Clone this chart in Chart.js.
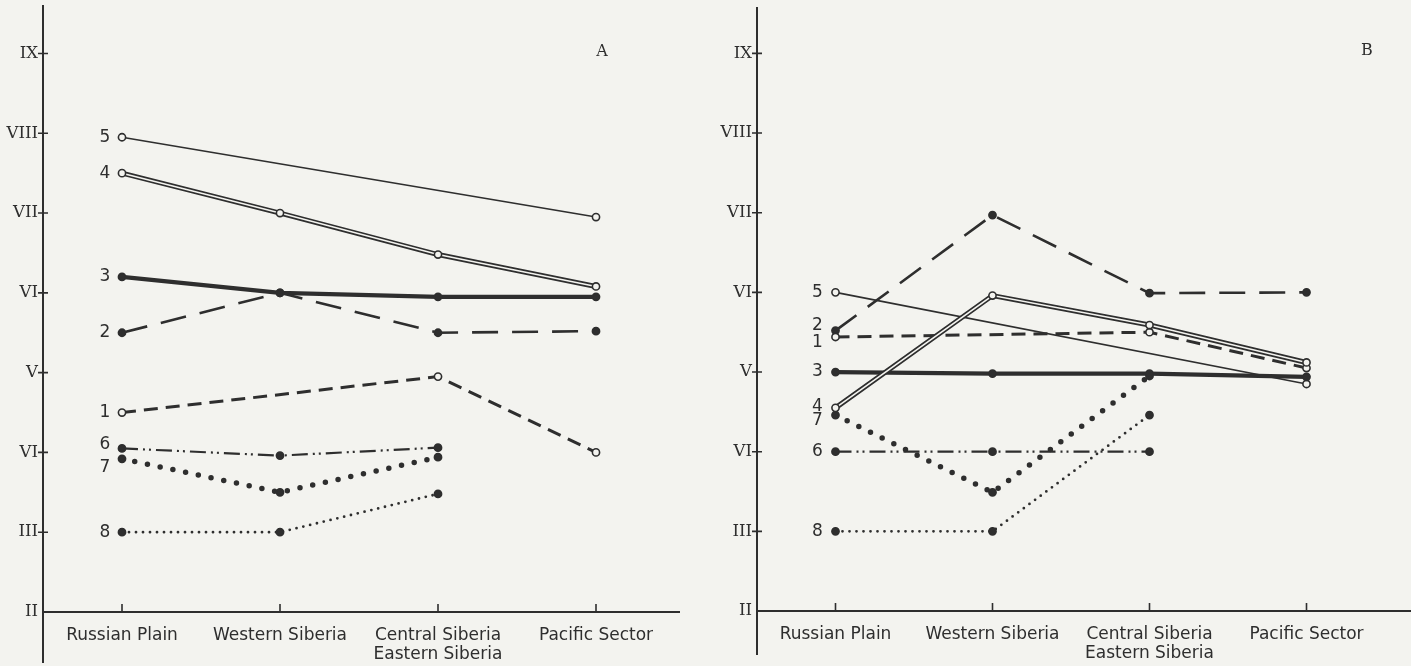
<!DOCTYPE html>
<html>
<head>
<meta charset="utf-8">
<script src="https://cdn.jsdelivr.net/npm/chart.js@4.4.1/dist/chart.umd.min.js"></script>
<style>
  html, body { margin: 0; padding: 0; background: #f3f3ef; }
  #wrap { position: relative; width: 1411px; height: 666px; overflow: hidden; background: #f3f3ef; }
  .panel { position: absolute; top: 0; height: 666px; }
  #pa { left: 0; width: 700px; }
  #pb { left: 700px; width: 711px; }
</style>
</head>
<body>
<div id="wrap">
  <div class="panel" id="pa"><canvas id="ca"></canvas></div>
  <div class="panel" id="pb"><canvas id="cb"></canvas></div>
</div>
<script>
// Regions along the west–east transect
const regions = ['Russian Plain', 'Western Siberia', ['Central Siberia', 'Eastern Siberia'], 'Pacific Sector'];

// Zone scale (value -> printed numeral)
const zoneTicks = [2, 3, 4, 5, 6, 7, 8, 9];
const zoneTickLabels = ['II', 'III', 'VI', 'V', 'VI', 'VII', 'VIII', 'IX'];

// Panel A
const a1 = [4.5, null, 4.95, 4.0];
const a2 = [5.5, 6.0, 5.5, 5.52];
const a3 = [6.2, 6.0, 5.95, 5.95];
const a4 = [7.5, 7.0, 6.48, 6.08];
const a5 = [7.95, null, null, 6.95];
const a6 = [4.05, 3.96, 4.06, null];
const a7 = [3.92, 3.5, 3.94, null];
const a8 = [3.0, 3.0, 3.48, null];

// Panel B
const b1 = [5.44, null, 5.5, 5.05];
const b2 = [5.52, 6.97, 5.99, 6.0];
const b3 = [5.0, 4.98, 4.98, 4.94];
const b4 = [4.55, 5.96, 5.59, 5.12];
const b5 = [6.0, null, null, 4.85];
const b6 = [4.0, 4.0, 4.0, null];
const b7 = [4.46, 3.49, 4.95, null];
const b8 = [3.0, 3.0, 4.46, null];

const ink = '#2e2e2e';
const paper = '#f3f3ef';

// Line style for each numbered curve
const curveStyle = {
  '1': { width: 3, dash: [14, 8], cap: 'butt', fillPt: paper },
  '2': { width: 2.6, dash: [26, 14], cap: 'butt', fillPt: ink },
  '3': { width: 4.2, dash: [], cap: 'butt', fillPt: ink },
  '4': { width: 5, dash: [], cap: 'butt', fillPt: paper, double: true },
  '5': { width: 1.6, dash: [], cap: 'butt', fillPt: paper },
  '6': { width: 2.2, dash: [16, 5, 2, 4, 2, 5], cap: 'butt', fillPt: ink },
  '7': { width: 5.5, dash: [0, 13], cap: 'round', fillPt: ink },
  '8': { width: 2.8, dash: [0, 7], cap: 'round', fillPt: ink }
};

function buildDatasets(series) {
  const out = [];
  Object.keys(series).forEach(name => {
    const st = curveStyle[name];
    const base = {
      data: series[name],
      spanGaps: true,
      borderColor: ink,
      borderWidth: st.width,
      borderDash: st.dash,
      borderCapStyle: st.cap,
      tension: 0,
      pointRadius: 3.6,
      pointBorderWidth: 1.6,
      pointBorderColor: ink,
      pointBackgroundColor: st.fillPt,
      order: 3
    };
    if (st.double) {
      out.push(Object.assign({}, base, { pointRadius: 0, order: 2 }));
      out.push(Object.assign({}, base, {
        curveNo: name, borderColor: paper, borderWidth: 1.6, order: 1
      }));
    } else {
      out.push(Object.assign(base, { curveNo: name }));
    }
  });
  return out;
}

// Hand-drawn style axes: long y spine with cross ticks, x baseline with short upward ticks
const handAxes = {
  id: 'handAxes',
  beforeDatasetsDraw(chart, args, opts) {
    const { ctx, chartArea: ca, scales: { x, y } } = chart;
    ctx.save();
    ctx.strokeStyle = ink;
    ctx.lineWidth = 2;
    ctx.beginPath();
    ctx.moveTo(ca.left, opts.spineTop);
    ctx.lineTo(ca.left, opts.spineBottom);
    ctx.moveTo(ca.left, ca.bottom);
    ctx.lineTo(opts.baseRight, ca.bottom);
    ctx.stroke();
    ctx.lineWidth = 1.6;
    ctx.beginPath();
    zoneTicks.forEach(v => {
      if (v === y.min) return;
      const py = y.getPixelForValue(v);
      ctx.moveTo(ca.left - 5, py);
      ctx.lineTo(ca.left + 5, py);
    });
    regions.forEach((r, i) => {
      const px = x.getPixelForValue(i);
      ctx.moveTo(px, ca.bottom);
      ctx.lineTo(px, ca.bottom - 8);
    });
    ctx.stroke();
    ctx.restore();
  },
  afterDraw(chart, args, opts) {
    const { ctx, chartArea: ca } = chart;
    ctx.save();
    ctx.fillStyle = ink;
    ctx.font = '16px "DejaVu Serif", serif';
    ctx.textAlign = 'center';
    ctx.textBaseline = 'middle';
    ctx.fillText(opts.panel, ca.right + opts.panelDx, ca.top + opts.panelDy);
    ctx.restore();
  }
};

// Curve numbers written to the left of each curve's first point
const curveNumbers = {
  id: 'curveNumbers',
  afterDatasetsDraw(chart, args, opts) {
    const { ctx } = chart;
    ctx.save();
    ctx.fillStyle = ink;
    ctx.font = '17px "DejaVu Sans", sans-serif';
    ctx.textAlign = 'center';
    ctx.textBaseline = 'middle';
    chart.data.datasets.forEach((ds, di) => {
      if (!ds.curveNo) return;
      const idx = ds.data.findIndex(v => v !== null);
      const pt = chart.getDatasetMeta(di).data[idx];
      const dy = (opts.shift[ds.curveNo] || 0);
      ctx.fillText(ds.curveNo, pt.x + opts.dx, pt.y + dy);
    });
    ctx.restore();
  }
};

function makeChart(canvasId, series, geo) {
  return new Chart(document.getElementById(canvasId), {
    type: 'line',
    data: { labels: regions, datasets: buildDatasets(series) },
    options: {
      responsive: true,
      maintainAspectRatio: false,
      animation: false,
      events: [],
      layout: { padding: { top: 4, right: geo.padRight, left: 0, bottom: 0 } },
      plugins: {
        legend: { display: false },
        tooltip: { enabled: false },
        handAxes: geo.axes,
        curveNumbers: geo.numbers
      },
      scales: {
        x: {
          type: 'category',
          offset: true,
          grid: { display: false, drawTicks: false },
          border: { display: false },
          ticks: {
            color: ink,
            padding: 14,
            autoSkip: false,
            maxRotation: 0,
            font: { family: '"DejaVu Sans", sans-serif', size: 17, lineHeight: 1.12 }
          },
          afterFit(scale) {
            scale.height = geo.xHeight;
            scale.paddingLeft = 0;
            scale.paddingRight = 0;
          }
        },
        y: {
          min: 2,
          max: 9.6,
          grid: { display: false, drawTicks: false },
          border: { display: false },
          afterBuildTicks(scale) { scale.ticks = zoneTicks.map(v => ({ value: v })); },
          ticks: {
            color: ink,
            padding: 5,
            font: { family: '"DejaVu Serif", serif', size: 16.5 },
            callback: v => zoneTickLabels[zoneTicks.indexOf(v)]
          },
          afterFit(scale) {
            scale.width = geo.yWidth;
            scale.paddingTop = 0;
            scale.paddingBottom = 0;
          }
        }
      }
    },
    plugins: [handAxes, curveNumbers]
  });
}

makeChart('ca',
  { '1': a1, '2': a2, '3': a3, '4': a4, '5': a5, '6': a6, '7': a7, '8': a8 },
  {
    padRight: 25, xHeight: 54, yWidth: 43,
    axes: { spineTop: 5, spineBottom: 663, baseRight: 680, panel: 'A', panelDx: -73, panelDy: 46 },
    numbers: { dx: -17, shift: { '6': -4, '7': 9 } }
  });

makeChart('cb',
  { '1': b1, '2': b2, '3': b3, '4': b4, '5': b5, '6': b6, '7': b7, '8': b8 },
  {
    padRight: 26, xHeight: 55, yWidth: 57,
    axes: { spineTop: 7, spineBottom: 655, baseRight: 711, panel: 'B', panelDx: -18, panelDy: 45 },
    numbers: { dx: -18, shift: { '2': -5, '1': 6, '4': -1, '7': 6 } }
  });
</script>
</body>
</html>
